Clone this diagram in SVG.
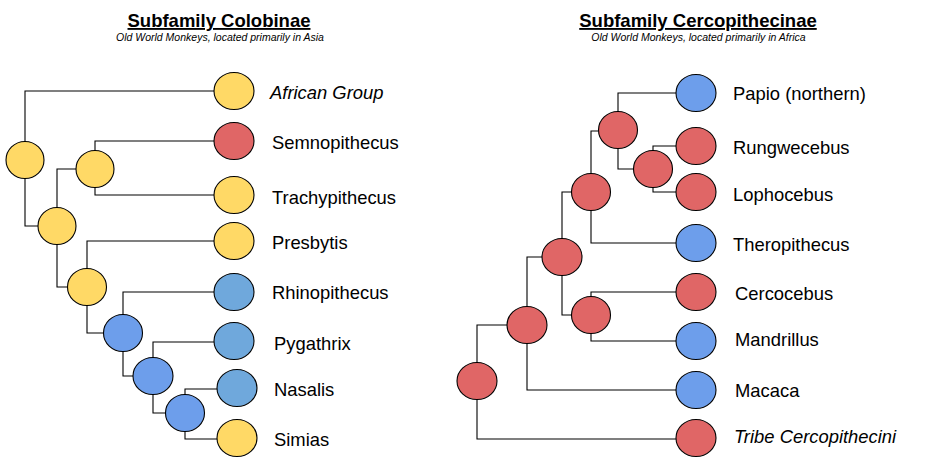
<svg xmlns="http://www.w3.org/2000/svg" width="928" height="473" viewBox="0 0 928 473">
<style>
.bg{fill:#ffffff}
.n{stroke:#000;stroke-width:1.1}
.y{fill:#ffd966}.r{fill:#e06666}.b{fill:#6d9eeb}.lb{fill:#6fa8dc}
.e{fill:none;stroke:#000;stroke-width:1.1}
.t{font-family:"Liberation Sans",Arial,sans-serif;font-size:18.4px;fill:#000}
.i{font-style:italic}
.h{font-family:"Liberation Sans",Arial,sans-serif;font-size:18.5px;font-weight:bold;text-decoration:underline;text-anchor:middle;fill:#000}
.s{font-family:"Liberation Sans",Arial,sans-serif;font-size:10.5px;font-style:italic;text-anchor:middle;fill:#000}
</style>
<rect class="bg" x="0" y="0" width="928" height="473"/>
<g id="titles">
<text class="h" x="219" y="27">Subfamily Colobinae</text>
<text class="s" x="220" y="41">Old World Monkeys, located primarily in Asia</text>
<text class="h" x="698" y="27">Subfamily Cercopithecinae</text>
<text class="s" x="698.5" y="41">Old World Monkeys, located primarily in Africa</text>
</g>
<g id="connectors">
<path class="e" d="M25,141 V91 H214"/>
<path class="e" d="M25,179 V226 H38"/>
<path class="e" d="M57,207 V169 H76"/>
<path class="e" d="M95,151 V141 H214"/>
<path class="e" d="M95,187 V195 H214"/>
<path class="e" d="M57,245 V287 H68"/>
<path class="e" d="M87,268 V241 H214"/>
<path class="e" d="M87,306 V333 H103"/>
<path class="e" d="M123,315 V292 H214"/>
<path class="e" d="M123,351 V376 H133"/>
<path class="e" d="M153,358 V342 H214"/>
<path class="e" d="M153,394 V413 H166"/>
<path class="e" d="M185,395 V389 H217"/>
<path class="e" d="M185,431 V439 H217"/>
<path class="e" d="M477,362 V325 H507"/>
<path class="e" d="M477,399 V439 H676"/>
<path class="e" d="M527,307 V257 H542"/>
<path class="e" d="M527,343 V390 H676"/>
<path class="e" d="M562,239 V192 H572"/>
<path class="e" d="M562,276 V315 H572"/>
<path class="e" d="M591,297 V292 H676"/>
<path class="e" d="M591,333 V341 H676"/>
<path class="e" d="M591,174 V131 H598"/>
<path class="e" d="M591,210 V243 H676"/>
<path class="e" d="M618,112 V93 H676"/>
<path class="e" d="M618,148 V169 H633"/>
<path class="e" d="M653,151 V146 H676"/>
<path class="e" d="M653,187 V192 H676"/>
</g>
<g id="L-root"><ellipse class="n y" cx="25" cy="160" rx="19" ry="18.5"/></g>
<g id="L-n2"><ellipse class="n y" cx="57" cy="226" rx="19" ry="18.5"/></g>
<g id="L-n2a"><ellipse class="n y" cx="95" cy="169" rx="19" ry="18.5"/></g>
<g id="L-n3"><ellipse class="n y" cx="87" cy="287" rx="19.5" ry="18.5"/></g>
<g id="L-n4"><ellipse class="n b" cx="123" cy="333" rx="19.5" ry="18.5"/></g>
<g id="L-n5"><ellipse class="n b" cx="153" cy="376" rx="20" ry="18.5"/></g>
<g id="L-n6"><ellipse class="n b" cx="185" cy="413" rx="19.5" ry="18.5"/></g>
<g id="african-group"><ellipse class="n y" cx="234" cy="91" rx="20" ry="18.5"/><text class="t i" x="270" y="99">African Group</text></g>
<g id="semnopithecus"><ellipse class="n r" cx="234" cy="141" rx="20" ry="18.5"/><text class="t" x="272" y="149">Semnopithecus</text></g>
<g id="trachypithecus"><ellipse class="n y" cx="234" cy="195" rx="20" ry="18.5"/><text class="t" x="272" y="204">Trachypithecus</text></g>
<g id="presbytis"><ellipse class="n y" cx="234" cy="241" rx="20" ry="18.5"/><text class="t" x="272" y="249">Presbytis</text></g>
<g id="rhinopithecus"><ellipse class="n lb" cx="234" cy="292" rx="20" ry="18.5"/><text class="t" x="272" y="299">Rhinopithecus</text></g>
<g id="pygathrix"><ellipse class="n lb" cx="234" cy="341" rx="20" ry="18.5"/><text class="t" x="274" y="350">Pygathrix</text></g>
<g id="nasalis"><ellipse class="n lb" cx="237" cy="388" rx="20" ry="18.5"/><text class="t" x="274" y="396">Nasalis</text></g>
<g id="simias"><ellipse class="n y" cx="237" cy="438" rx="20" ry="18.5"/><text class="t" x="274" y="446">Simias</text></g>
<g id="R-root"><ellipse class="n r" cx="477" cy="381" rx="20" ry="18.5"/></g>
<g id="R-n2"><ellipse class="n r" cx="527" cy="325" rx="20" ry="18.5"/></g>
<g id="R-n3"><ellipse class="n r" cx="562" cy="257" rx="20" ry="18.5"/></g>
<g id="R-n4"><ellipse class="n r" cx="591" cy="192" rx="19.5" ry="18.5"/></g>
<g id="R-n7"><ellipse class="n r" cx="591" cy="315" rx="19.5" ry="18.5"/></g>
<g id="R-n5"><ellipse class="n r" cx="618" cy="130" rx="19.5" ry="18.5"/></g>
<g id="R-n6"><ellipse class="n r" cx="653" cy="169" rx="19.5" ry="18.5"/></g>
<g id="papio"><ellipse class="n b" cx="696" cy="93" rx="20" ry="18.5"/><text class="t" x="733" y="100">Papio (northern)</text></g>
<g id="rungwecebus"><ellipse class="n r" cx="696" cy="146" rx="20" ry="18.5"/><text class="t" x="733" y="154">Rungwecebus</text></g>
<g id="lophocebus"><ellipse class="n r" cx="696" cy="192" rx="20" ry="18.5"/><text class="t" x="733" y="201">Lophocebus</text></g>
<g id="theropithecus"><ellipse class="n b" cx="696" cy="243" rx="20" ry="18.5"/><text class="t" x="733" y="251">Theropithecus</text></g>
<g id="cercocebus"><ellipse class="n r" cx="696" cy="292" rx="20" ry="18.5"/><text class="t" x="735" y="300">Cercocebus</text></g>
<g id="mandrillus"><ellipse class="n b" cx="696" cy="341" rx="20" ry="18.5"/><text class="t" x="735" y="346">Mandrillus</text></g>
<g id="macaca"><ellipse class="n b" cx="696" cy="390" rx="20" ry="18.5"/><text class="t" x="735" y="397">Macaca</text></g>
<g id="tribe-cercopithecini"><ellipse class="n r" cx="696" cy="438" rx="20" ry="18.5"/><text class="t i" x="734" y="443">Tribe Cercopithecini</text></g>
</svg>
